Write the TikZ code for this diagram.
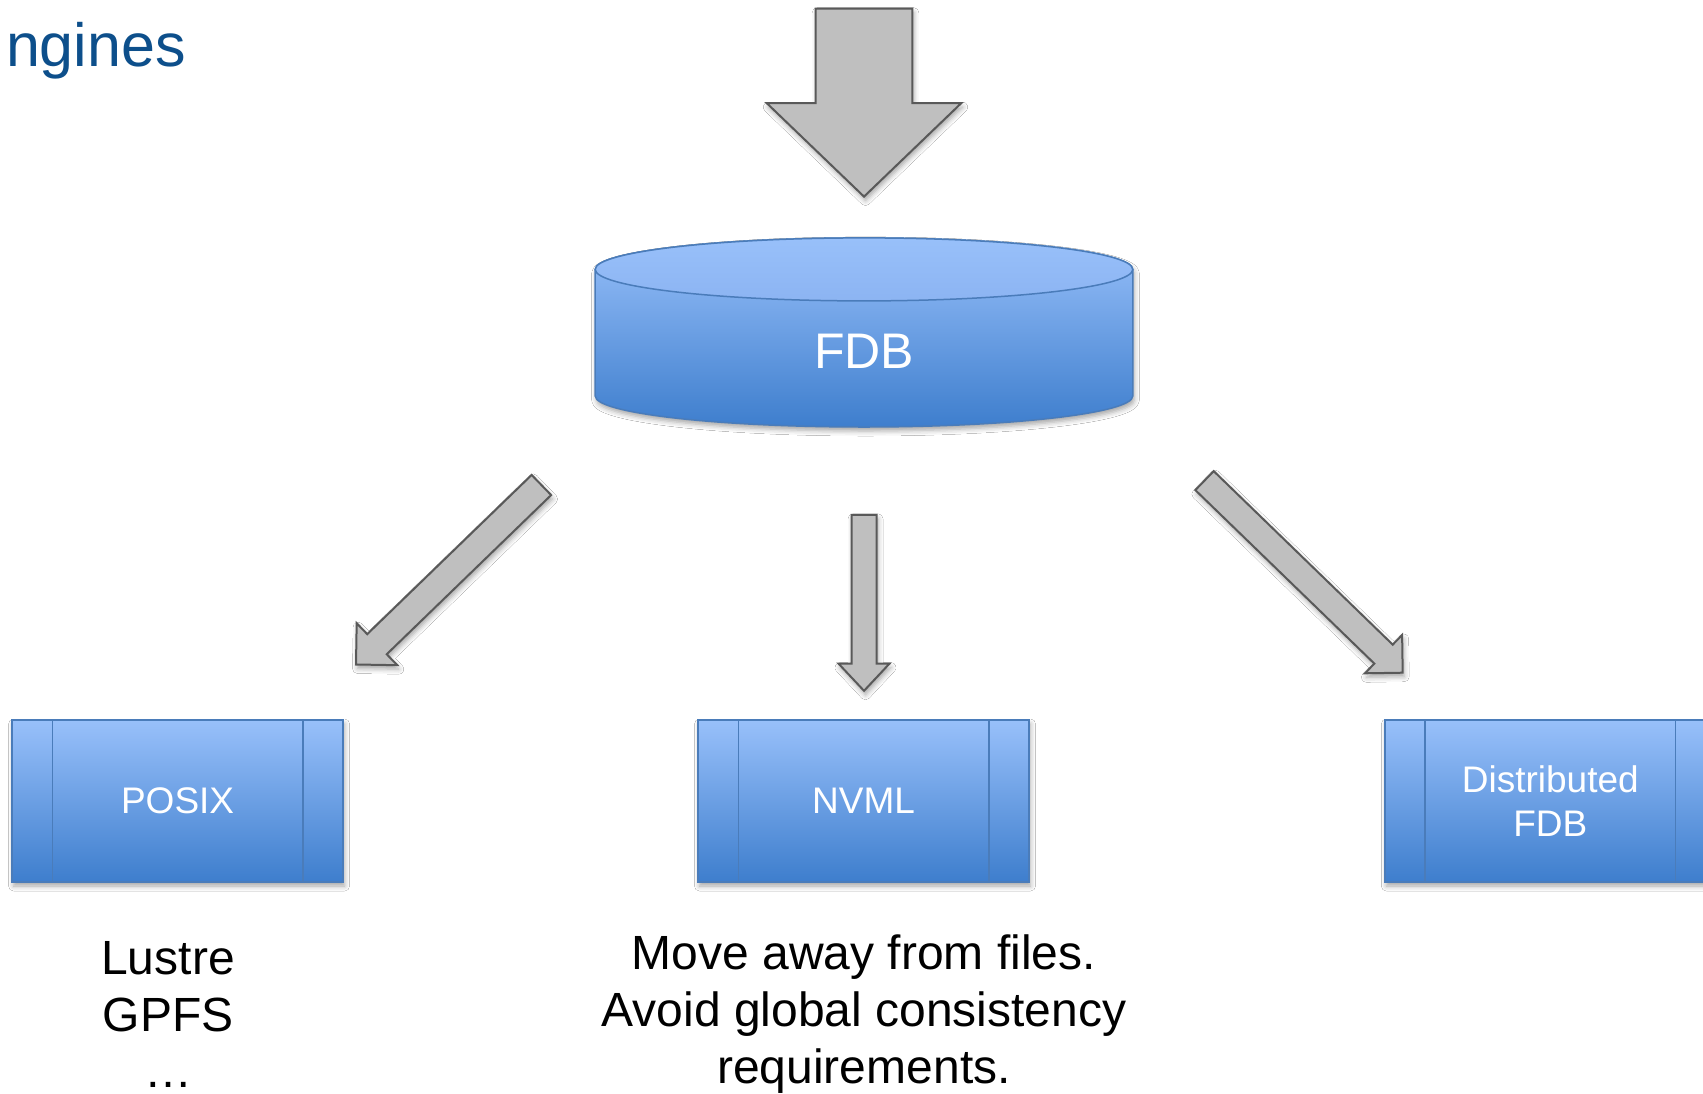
\documentclass[tikz,border=0pt]{standalone}
\usepackage{fontspec}
\setmainfont{Liberation Sans}
\usetikzlibrary{calc,shadows.blur}

\definecolor{boxtop}{RGB}{152,192,250}
\definecolor{boxbot}{RGB}{62,126,205}
\definecolor{boxedge}{RGB}{74,124,186}
\definecolor{lidtop}{RGB}{152,192,250}
\definecolor{lidbot}{RGB}{140,180,242}
\definecolor{arrowfill}{RGB}{191,191,191}
\definecolor{arrowedge}{RGB}{89,89,89}
\definecolor{titleblue}{RGB}{13,79,139}

% block arrow: tail, tip, half shaft width, half head width, head length
\newcommand\blockarrow[5]{%
  \coordinate (ba-base) at ($(#2)!#5!(#1)$);
  \path[blockarrowbody]
    ($(#1)!#3!90:(#2)$) -- ($(ba-base)!#3!90:(#2)$) -- ($(ba-base)!#4!90:(#2)$)
    -- (#2)
    -- ($(ba-base)!#4!-90:(#2)$) -- ($(ba-base)!#3!-90:(#2)$) -- ($(#1)!#3!-90:(#2)$)
    -- cycle;
}

\begin{document}
\begin{tikzpicture}[x=1pt,y=-1pt,
  softshadow/.style={blur shadow={shadow xshift=1.5pt, shadow yshift=-4pt,
      shadow blur radius=5pt, shadow opacity=35}},
  blockarrowbody/.style={fill=arrowfill, draw=arrowedge, line width=2pt,
      line join=miter, softshadow},
  procbox/.style={draw=boxedge, line width=1.5pt, top color=boxtop,
      bottom color=boxbot, minimum width=331pt, minimum height=162pt,
      inner sep=0pt, align=center, text=white,
      font=\fontsize{37}{44.6}\selectfont, softshadow},
  boxline/.style={draw=boxedge, line width=1.5pt},
  note/.style={anchor=base, inner sep=0pt, text=black,
      font=\fontsize{48}{57}\selectfont},
]
\clip (0,0) rectangle (1703,1093);
\fill[white] (0,0) rectangle (1703,1093);

% title fragment
\node[anchor=base east, inner sep=0pt, text=titleblue,
      font=\fontsize{61}{70}\selectfont] (title) at (186,66) {ngines};

% incoming arrow
\coordinate (inTail) at (864,8.7);
\coordinate (inTip) at (864,196.6);
\blockarrow{inTail}{inTip}{48.3pt}{97.2pt}{93.4pt}

% FDB cylinder
\path[top color=boxtop, bottom color=boxbot, draw=boxedge, line width=1.5pt, softshadow]
  (595.2,269.4) -- (595.2,396)
  arc[start angle=180, end angle=360, x radius=268.8pt, y radius=31pt]
  -- (1132.8,269.4)
  arc[start angle=0, end angle=180, x radius=268.8pt, y radius=31.5pt] -- cycle;
\path[top color=lidtop, bottom color=lidbot, draw=boxedge, line width=1.5pt]
  (864,269.4) ellipse[x radius=268.8pt, y radius=31.5pt];
\node[anchor=base, inner sep=0pt, text=white,
      font=\fontsize{50}{60}\selectfont] (fdb) at (864,368) {FDB};

% back-end boxes
\node[procbox] (posix) at (177.6,801) {POSIX};
\node[procbox] (nvml) at (863.5,801) {NVML};
\node[procbox] (dist) at (1550.3,801) {Distributed\\FDB};
\foreach \b in {posix,nvml,dist}{
  \draw[boxline] ([xshift=41pt]\b.north west) -- ([xshift=41pt]\b.south west);
  \draw[boxline] ([xshift=-41pt]\b.north east) -- ([xshift=-41pt]\b.south east);
}

% arrows from FDB to the back-ends
\coordinate (lTail) at (541.4,485);
\coordinate (lTip) at (356,664.5);
\blockarrow{lTail}{lTip}{14pt}{29.2pt}{29.2pt}
\coordinate (cTail) at (864,514.8);
\coordinate (cTip) at (864,690.8);
\blockarrow{cTail}{cTip}{12.5pt}{25.5pt}{27.2pt}
\coordinate (rTail) at (1204.5,480.6);
\coordinate (rTip) at (1402.7,672.7);
\blockarrow{rTail}{rTip}{13.2pt}{26.7pt}{26.7pt}

% notes under the boxes
\node[note] (lustre) at (168,974.3) {Lustre};
\node[note] (gpfs) at (168,1031.7) {GPFS};
\node[note] (more) at (168,1087) {…};
\node[note] (nv1) at (864,969) {Move away from files.};
\node[note] (nv2) at (864,1026) {Avoid global consistency};
\node[note] (nv3) at (864,1083) {requirements.};
\end{tikzpicture}
\end{document}
